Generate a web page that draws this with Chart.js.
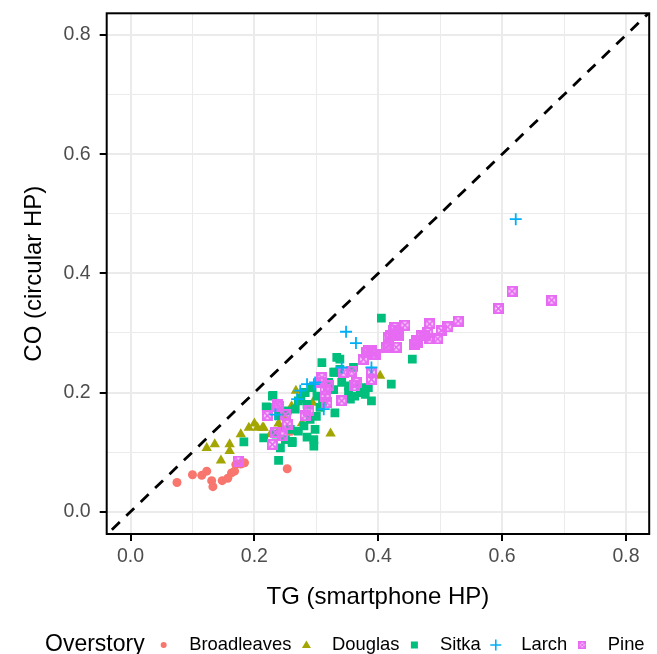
<!DOCTYPE html>
<html>
<head>
<meta charset="utf-8">
<script src="https://cdn.jsdelivr.net/npm/chart.js@4.4.1/dist/chart.umd.min.js"></script>
<style>
  body { margin: 0; background: #fff; }
  canvas { display: block; }
</style>
</head>
<body>
<canvas id="overstoryChart" width="657" height="654"></canvas>
<script>
// group names and colours (ggplot default hue palette)
var groups = ["Broadleaves", "Douglas", "Sitka", "Larch", "Pine"];
var groupColors = ["#F8766D", "#A3A500", "#00BF7D", "#00B0F6", "#E76BF3"];

// TG (smartphone HP) vs CO (circular HP)
var broadleavesTG = [0.075, 0.100, 0.115, 0.123, 0.131, 0.133, 0.148, 0.157, 0.163, 0.168, 0.170, 0.178, 0.184, 0.253, 0.259];
var broadleavesCO = [0.049, 0.062, 0.061, 0.068, 0.052, 0.042, 0.052, 0.056, 0.065, 0.068, 0.079, 0.080, 0.082, 0.072, 0.135];

var douglasTG = [0.123, 0.136, 0.160, 0.160, 0.146, 0.178, 0.191, 0.200, 0.205, 0.215, 0.226, 0.239, 0.242, 0.247, 0.260, 0.267, 0.277, 0.294, 0.323, 0.403, 0.213];
var douglasCO = [0.107, 0.113, 0.113, 0.102, 0.086, 0.130, 0.141, 0.148, 0.141, 0.141, 0.130, 0.148, 0.141, 0.158, 0.177, 0.203, 0.149, 0.183, 0.131, 0.228, 0.141];

var sitkaTG = [0.230, 0.219, 0.183, 0.239, 0.261, 0.215, 0.266, 0.309, 0.333, 0.338, 0.338, 0.360, 0.330, 0.421, 0.389, 0.379, 0.371, 0.352, 0.355, 0.330,
               0.306, 0.296, 0.296, 0.261, 0.242, 0.229, 0.221, 0.280, 0.239, 0.253, 0.271, 0.282, 0.293, 0.301, 0.290, 0.298, 0.280, 0.271, 0.258, 0.250,
               0.320, 0.328, 0.341, 0.352, 0.362, 0.373, 0.384, 0.405, 0.455, 0.328, 0.285, 0.275, 0.310, 0.300, 0.285, 0.235];
var sitkaCO = [0.195, 0.176, 0.117, 0.086, 0.118, 0.124, 0.172, 0.250, 0.259, 0.256, 0.239, 0.242, 0.234, 0.214, 0.186, 0.197, 0.208, 0.211, 0.189, 0.166,
               0.175, 0.121, 0.110, 0.116, 0.107, 0.194, 0.175, 0.200, 0.161, 0.169, 0.186, 0.200, 0.208, 0.194, 0.155, 0.138, 0.144, 0.135, 0.138, 0.121,
               0.217, 0.205, 0.217, 0.200, 0.194, 0.200, 0.208, 0.325, 0.256, 0.234, 0.180, 0.190, 0.185, 0.160, 0.125, 0.130];

var larchTG = [0.622, 0.348, 0.364, 0.389, 0.285, 0.298, 0.341, 0.269, 0.234, 0.312, 0.274, 0.296];
var larchCO = [0.491, 0.302, 0.283, 0.242, 0.214, 0.217, 0.242, 0.189, 0.163, 0.172, 0.203, 0.214];

var pineTG = [0.680, 0.616, 0.594, 0.529, 0.512, 0.502, 0.496, 0.483, 0.480, 0.475, 0.483, 0.470, 0.462, 0.459, 0.464, 0.443, 0.427, 0.424, 0.432, 0.419,
              0.429, 0.416, 0.429, 0.413, 0.395, 0.384, 0.376, 0.389, 0.344, 0.357, 0.389, 0.381, 0.392, 0.309, 0.309, 0.365, 0.362, 0.389, 0.314, 0.320,
              0.314, 0.317, 0.341, 0.288, 0.282, 0.237, 0.239, 0.221, 0.250, 0.253, 0.234, 0.245, 0.229, 0.174, 0.424, 0.432, 0.416];
var pineCO = [0.355, 0.370, 0.341, 0.320, 0.310, 0.304, 0.290, 0.315, 0.301, 0.295, 0.290, 0.295, 0.287, 0.281, 0.284, 0.313, 0.309, 0.304, 0.301, 0.295,
              0.295, 0.278, 0.276, 0.276, 0.264, 0.270, 0.256, 0.270, 0.234, 0.236, 0.234, 0.267, 0.264, 0.225, 0.217, 0.217, 0.211, 0.222, 0.205, 0.211,
              0.194, 0.183, 0.186, 0.169, 0.161, 0.180, 0.177, 0.161, 0.163, 0.147, 0.133, 0.127, 0.113, 0.085, 0.298, 0.295, 0.292];

// 1:1 reference line
var oneToOne = [-0.1, 1.0];

// axes
var majorTicks = [0, 0.2, 0.4, 0.6, 0.8];
var minorTicks = [0.1, 0.3, 0.5, 0.7];
var tickLabels = ["0.0", "0.2", "0.4", "0.6", "0.8"];
var xRange = [-0.0385, 0.8375];
var yRange = [-0.0375, 0.8365];

function pairs(xs, ys) {
    return xs.map(function (x, i) { return { x: x, y: ys[i] }; });
}

// square with an X inside (ggplot shape 7)
function boxedCross(size, color, lw) {
    var c = document.createElement("canvas");
    c.width = size;
    c.height = size;
    var g = c.getContext("2d");
    g.strokeStyle = color;
    g.lineWidth = lw;
    var a = lw / 2, b = size - lw / 2;
    g.strokeRect(a, a, b - a, b - a);
    g.lineWidth = lw * 0.8;
    g.beginPath();
    g.moveTo(a, a); g.lineTo(b, b);
    g.moveTo(b, a); g.lineTo(a, b);
    g.stroke();
    return c;
}

var pineMark = boxedCross(11, groupColors[4], 2.4);
var pineLegendMark = boxedCross(8, groupColors[4], 1.8);

function isMajor(v) {
    return majorTicks.some(function (m) { return Math.abs(m - v) < 1e-6; });
}

function setTicks(scale) {
    scale.ticks = majorTicks.concat(minorTicks)
        .sort(function (a, b) { return a - b; })
        .map(function (v) { return { value: v }; });
}

function axisOptions(range, title) {
    return {
        type: "linear",
        min: range[0],
        max: range[1],
        afterBuildTicks: setTicks,
        grid: {
            color: "#EBEBEB",
            lineWidth: function (c) { return c.tick && isMajor(c.tick.value) ? 2 : 1; },
            tickColor: function (c) { return c.tick && isMajor(c.tick.value) ? "#000" : "rgba(0,0,0,0)"; },
            tickLength: 7,
            tickWidth: 2
        },
        border: { display: false },
        ticks: {
            autoSkip: false,
            maxRotation: 0,
            color: "#4D4D4D",
            font: { family: "Liberation Sans", size: 19.5 },
            callback: function (v) {
                var i = majorTicks.findIndex(function (m) { return Math.abs(m - v) < 1e-6; });
                return i >= 0 ? tickLabels[i] : "";
            }
        },
        title: {
            display: true,
            text: title,
            color: "#000",
            font: { family: "Liberation Sans", size: 24 }
        }
    };
}

var xAxis = axisOptions(xRange, "TG (smartphone HP)");
xAxis.ticks.padding = 4;
xAxis.title.padding = { top: 0, bottom: 42 };
xAxis.afterFit = function (s) {
    s.height = 120;
    s.paddingLeft = 0;
    s.paddingRight = 0;
};

var yAxis = axisOptions(yRange, "CO (circular HP)");
yAxis.ticks.padding = 9;
yAxis.title.padding = { top: 20, bottom: 0 };
yAxis.afterFit = function (s) {
    s.width = 106.7;
    s.paddingTop = 0;
    s.paddingBottom = 0;
};

var panelAndLegend = {
    id: "panelAndLegend",
    afterDraw: function (chart) {
        var g = chart.ctx;
        var a = chart.chartArea;
        g.save();
        g.strokeStyle = "#000";
        g.lineWidth = 2;
        g.strokeRect(a.left, a.top, a.right - a.left, a.bottom - a.top);

        // legend row
        var y = 645;
        var x = 45;
        g.textBaseline = "middle";
        g.textAlign = "left";
        g.fillStyle = "#000";
        g.font = "23px 'Liberation Sans'";
        g.fillText("Overstory", x, y);
        x += g.measureText("Overstory").width + 19;
        g.font = "18.4px 'Liberation Sans'";
        groups.forEach(function (name, i) {
            var col = groupColors[i];
            g.fillStyle = col;
            g.strokeStyle = col;
            if (i === 0) {
                g.beginPath(); g.arc(x, y, 3, 0, Math.PI * 2); g.fill();
            } else if (i === 1) {
                g.beginPath(); g.moveTo(x, y - 4.5); g.lineTo(x + 4.5, y + 3); g.lineTo(x - 4.5, y + 3); g.closePath(); g.fill();
            } else if (i === 2) {
                g.fillRect(x - 3.5, y - 3.5, 7, 7);
            } else if (i === 3) {
                g.lineWidth = 1.6;
                g.beginPath(); g.moveTo(x - 5.5, y); g.lineTo(x + 5.5, y); g.moveTo(x, y - 5.5); g.lineTo(x, y + 5.5); g.stroke();
            } else {
                g.drawImage(pineLegendMark, x - 4, y - 4);
            }
            x += 25.5;
            g.fillStyle = "#000";
            g.fillText(name, x, y);
            x += g.measureText(name).width + 15;
        });
        g.restore();
    }
};

new Chart("overstoryChart", {
    type: "scatter",
    data: {
        datasets: [
            {
                type: "line",
                label: "1:1",
                data: pairs(oneToOne, oneToOne),
                borderColor: "#000",
                borderWidth: 2.8,
                borderDash: [11, 9],
                pointRadius: 0,
                order: 0
            },
            {
                label: groups[0],
                data: pairs(broadleavesTG, broadleavesCO),
                pointStyle: "circle",
                pointRadius: 4.5,
                backgroundColor: groupColors[0],
                borderWidth: 0,
                order: 5
            },
            {
                label: groups[1],
                data: pairs(douglasTG, douglasCO),
                pointStyle: "triangle",
                pointRadius: 6,
                backgroundColor: groupColors[1],
                borderWidth: 0,
                order: 4
            },
            {
                label: groups[2],
                data: pairs(sitkaTG, sitkaCO),
                pointStyle: "rect",
                pointRadius: 6.2,
                backgroundColor: groupColors[2],
                borderWidth: 0,
                order: 3
            },
            {
                label: groups[3],
                data: pairs(larchTG, larchCO),
                pointStyle: "cross",
                pointRadius: 6,
                borderColor: groupColors[3],
                borderWidth: 1.8,
                order: 1
            },
            {
                label: groups[4],
                data: pairs(pineTG, pineCO),
                pointStyle: pineMark,
                pointRadius: 5.5,
                borderColor: groupColors[4],
                order: 2
            }
        ]
    },
    options: {
        responsive: false,
        animation: false,
        devicePixelRatio: 1,
        layout: { padding: { top: 13.3, right: 4.7, left: 0, bottom: 0 } },
        plugins: {
            legend: { display: false },
            tooltip: { enabled: false }
        },
        scales: { x: xAxis, y: yAxis }
    },
    plugins: [panelAndLegend]
});
</script>
</body>
</html>
